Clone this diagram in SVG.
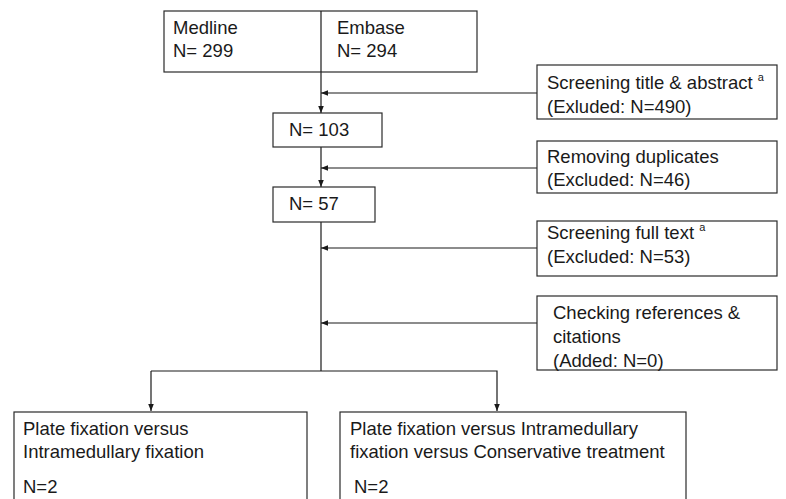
<svg xmlns="http://www.w3.org/2000/svg" width="786" height="499" viewBox="0 0 786 499">
<style>
.box{fill:#fff;stroke:#2a2a2a;stroke-width:1.2}
.ln{fill:none;stroke:#1a1a1a;stroke-width:1.2}
text{font-family:"Liberation Sans",Arial,sans-serif;font-size:18.5px;fill:#1a1a1a}
.sup{font-size:11px}
</style>
<defs>
<marker id="ah" viewBox="0 0 10 10" refX="10" refY="5" markerWidth="7" markerHeight="7" markerUnits="userSpaceOnUse" orient="auto">
<path d="M0,1 L10,5 L0,9 Z" fill="#1a1a1a"/>
</marker>
</defs>
<rect width="786" height="499" fill="#fff"/>
<g id="connectors">
<line class="ln" x1="321" y1="72" x2="321" y2="113" marker-end="url(#ah)"/>
<line class="ln" x1="321" y1="147" x2="321" y2="187" marker-end="url(#ah)"/>
<line class="ln" x1="321" y1="222" x2="321" y2="371"/>
<polyline class="ln" points="151,371 497,371 497,411" marker-end="url(#ah)"/>
<line class="ln" x1="151" y1="371" x2="151" y2="411" marker-end="url(#ah)"/>
<line class="ln" x1="537" y1="93" x2="321" y2="93" marker-end="url(#ah)"/>
<line class="ln" x1="537" y1="168" x2="321" y2="168" marker-end="url(#ah)"/>
<line class="ln" x1="537" y1="248" x2="321" y2="248" marker-end="url(#ah)"/>
<line class="ln" x1="537" y1="323" x2="321" y2="323" marker-end="url(#ah)"/>
</g>
<g id="sources">
<rect class="box" x="164" y="11" width="313" height="61"/>
<line class="ln" x1="321" y1="11" x2="321" y2="72"/>
<text x="173" y="34">Medline</text>
<text x="173" y="57">N= 299</text>
<text x="337" y="34">Embase</text>
<text x="337" y="57">N= 294</text>
</g>
<g id="n103">
<rect class="box" x="273" y="113" width="109" height="34"/>
<text x="289" y="136">N= 103</text>
</g>
<g id="n57">
<rect class="box" x="273" y="187" width="102" height="35"/>
<text x="289" y="210">N= 57</text>
</g>
<g id="screen-title">
<rect class="box" x="537" y="65" width="240" height="54"/>
<text x="547" y="89">Screening title &amp; abstract <tspan class="sup" dy="-8">a</tspan></text>
<text x="547" y="113">(Exluded: N=490)</text>
</g>
<g id="dup">
<rect class="box" x="537" y="141" width="240" height="52"/>
<text x="547" y="163">Removing duplicates</text>
<text x="547" y="186">(Excluded: N=46)</text>
</g>
<g id="fulltext">
<rect class="box" x="537" y="221" width="240" height="55"/>
<text x="547" y="239">Screening full text <tspan class="sup" dy="-8">a</tspan></text>
<text x="547" y="263">(Excluded: N=53)</text>
</g>
<g id="refs">
<rect class="box" x="537" y="296" width="240" height="74"/>
<text x="553" y="319">Checking references &amp;</text>
<text x="553" y="343">citations</text>
<text x="553" y="367">(Added: N=0)</text>
</g>
<g id="left-result">
<rect class="box" x="14" y="412" width="293" height="100"/>
<text x="23" y="435">Plate fixation versus</text>
<text x="23" y="458">Intramedullary fixation</text>
<text x="23" y="493">N=2</text>
</g>
<g id="right-result">
<rect class="box" x="340" y="412" width="346" height="100"/>
<text x="350" y="435">Plate fixation versus Intramedullary</text>
<text x="350" y="458">fixation versus Conservative treatment</text>
<text x="354" y="493">N=2</text>
</g>
</svg>
